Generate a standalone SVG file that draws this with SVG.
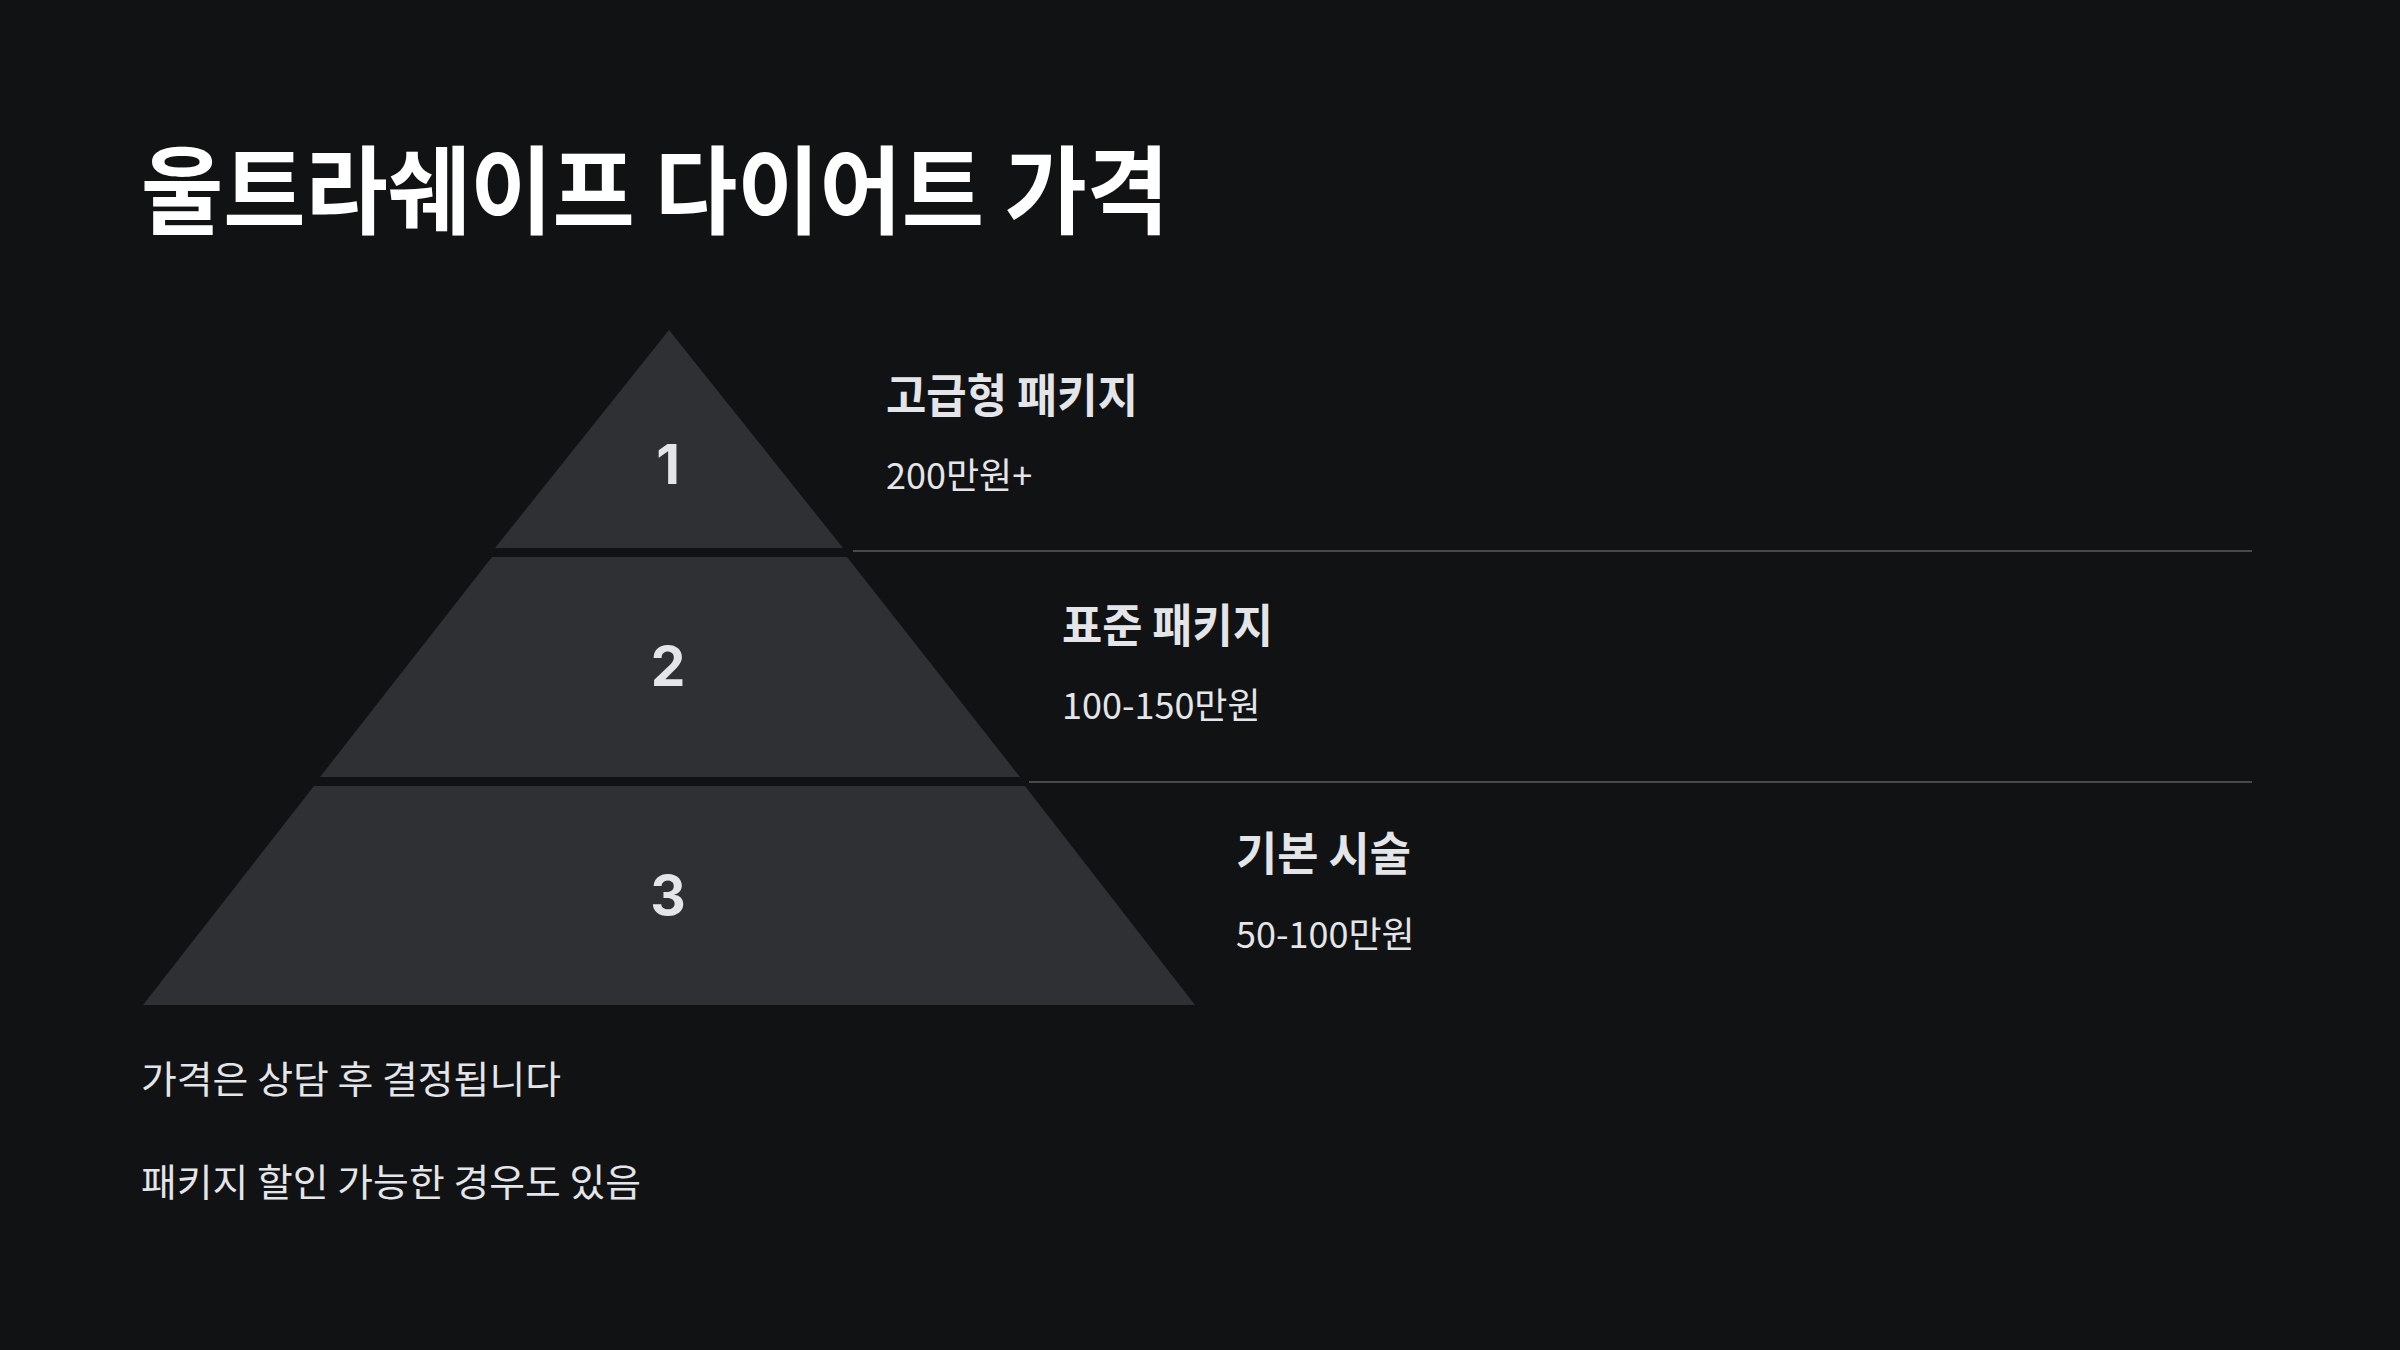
<svg xmlns="http://www.w3.org/2000/svg" width="2400" height="1350" viewBox="0 0 2400 1350">
<style>
.bg{fill:#111214}
.tier{fill:#2f3033}
.num{font-family:Inter,"Liberation Sans",sans-serif;font-weight:700;font-size:55px;fill:#e3e5e8;text-anchor:middle}
.title{font-family:"Noto Sans CJK KR","Noto Sans",sans-serif;font-weight:700;font-size:96px;fill:#ffffff}
.head{font-family:"Noto Sans CJK KR","Noto Sans",sans-serif;font-weight:700;font-size:46px;fill:#e3e5e8}
.body{font-family:"Noto Sans CJK KR","Noto Sans",sans-serif;font-weight:400;font-size:36px;fill:#e3e5e8}
.note{font-family:"Noto Sans CJK KR","Noto Sans",sans-serif;font-weight:400;font-size:38px;fill:#e3e5e8}
.sep{stroke:#48494c;stroke-width:2;fill:none}
</style>
<rect class="bg" x="0" y="0" width="2400" height="1350"/>
<text class="title" x="141" y="226" textLength="1028" lengthAdjust="spacingAndGlyphs">울트라쉐이프 다이어트 가격</text>
<g id="tier1">
<polygon class="tier" points="669,330 843,548 495,548"/>
<text class="num" x="668" y="484">1</text>
<text class="head" x="886" y="412" textLength="252" lengthAdjust="spacingAndGlyphs">고급형 패키지</text>
<text class="body" x="886" y="489">200만원+</text>
</g>
<g id="tier2">
<polygon class="tier" points="492,557 847,557 1020,777 320,777"/>
<text class="num" x="668" y="686">2</text>
<text class="head" x="1062" y="642" textLength="211" lengthAdjust="spacingAndGlyphs">표준 패키지</text>
<text class="body" x="1062" y="719">100-150만원</text>
</g>
<g id="tier3">
<polygon class="tier" points="314,786 1025,786 1195,1005 143,1005"/>
<text class="num" x="668" y="915">3</text>
<text class="head" x="1236" y="870" textLength="175" lengthAdjust="spacingAndGlyphs">기본 시술</text>
<text class="body" x="1236" y="948">50-100만원</text>
</g>
<g id="connectors">
<line class="sep" x1="853" y1="551" x2="2252" y2="551"/>
<line class="sep" x1="1029" y1="782" x2="2252" y2="782"/>
</g>
<g id="notes">
<text class="note" x="141" y="1093" textLength="420" lengthAdjust="spacingAndGlyphs">가격은 상담 후 결정됩니다</text>
<text class="note" x="141" y="1196" textLength="500" lengthAdjust="spacingAndGlyphs">패키지 할인 가능한 경우도 있음</text>
</g>
</svg>
